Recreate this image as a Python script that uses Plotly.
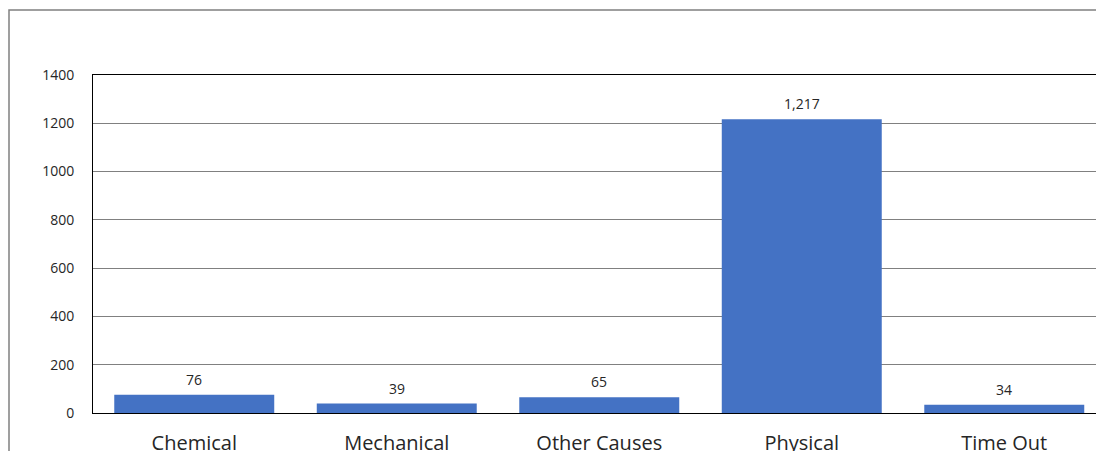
import plotly.graph_objects as go

categories = ["Chemical", "Mechanical", "Other Causes", "Physical", "Time Out"]
values = [76, 39, 65, 1217, 34]
y_ticks = [0, 200, 400, 600, 800, 1000, 1200, 1400]

FONT = "Segoe UI, Open Sans, Noto Sans, sans-serif"

fig = go.Figure(
    go.Bar(
        x=categories,
        y=values,
        marker=dict(color="#4472C4", line=dict(width=0)),
        hoverinfo="x+y",
    )
)

for c, v in zip(categories, values):
    fig.add_annotation(
        x=c, y=v, text=f"{v:,}", showarrow=False,
        yanchor="bottom", yshift=4,
        font=dict(family=FONT, size=14, color="#262626"),
    )

W, H = 1096, 451
L, R, T, B = 93, 0, 75, 38

fig.update_layout(
    width=W,
    height=H,
    margin=dict(l=L, r=R, t=T, b=B, pad=0),
    paper_bgcolor="white",
    plot_bgcolor="white",
    bargap=0.21,
    showlegend=False,
    font=dict(family=FONT, color="#262626"),
)

fig.update_xaxes(
    type="category",
    range=[-0.5, 4.453],
    automargin=False,
    showline=True,
    linecolor="#000000",
    linewidth=1,
    mirror=True,
    ticks="",
    showgrid=False,
    tickfont=dict(family=FONT, size=20, color="#262626"),
    ticklabelstandoff=12,
)

fig.update_yaxes(
    range=[0, 1400],
    automargin=False,
    tickvals=y_ticks,
    tickformat="d",
    showline=True,
    linecolor="#000000",
    linewidth=1,
    showgrid=True,
    gridcolor="#808080",
    gridwidth=1,
    zeroline=False,
    ticks="",
    tickfont=dict(family=FONT, size=14, color="#262626"),
    ticklabelstandoff=15,
)

plot_w = W - L - R
plot_h = H - T - B
fig.add_shape(
    type="rect",
    xref="paper",
    yref="paper",
    x0=(9 - L) / plot_w,
    x1=(W + 20 - L) / plot_w,
    y0=-(60) / plot_h,
    y1=(H - B - 10) / plot_h,
    line=dict(color="#808080", width=1.5),
    fillcolor="rgba(0,0,0,0)",
    layer="below",
)

fig.write_html("out.html")
